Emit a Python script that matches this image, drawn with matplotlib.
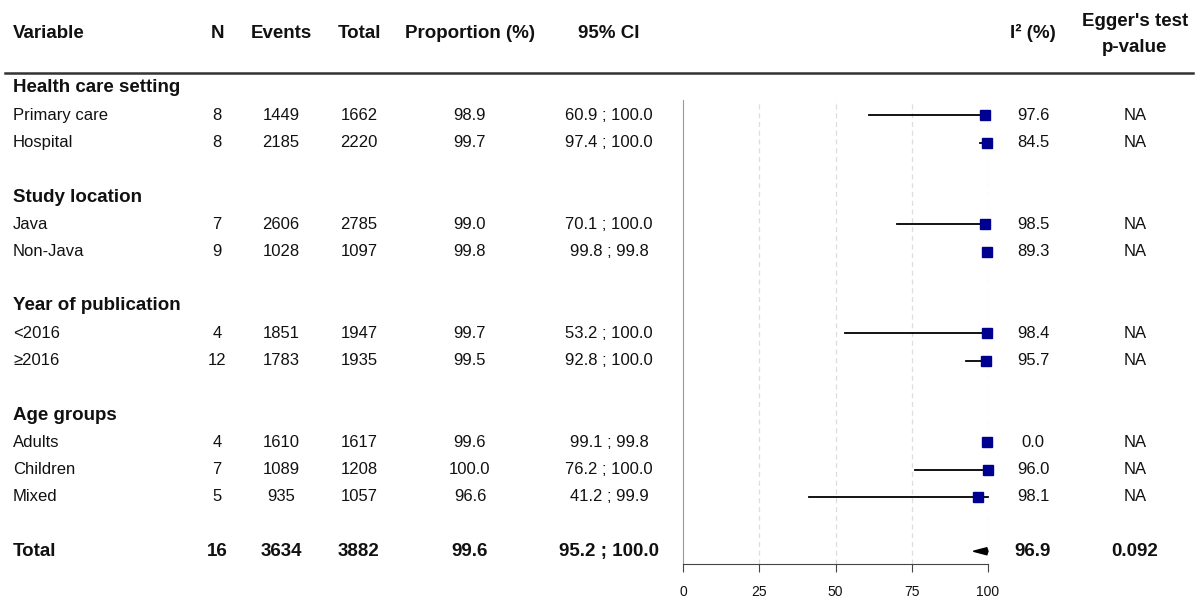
import matplotlib.pyplot as plt
from matplotlib.patches import Polygon

plt.rcParams['font.family'] = ['Liberation Sans', 'DejaVu Sans']

# ---- data ----
groups = ["Health care setting", "Study location", "Year of publication", "Age groups"]
subgroups = [["Primary care", "Hospital"],
             ["Java", "Non-Java"],
             ["<2016", "\u22652016"],
             ["Adults", "Children", "Mixed"]]
n_studies = [8, 8, 7, 9, 4, 12, 4, 7, 5]
events = [1449, 2185, 2606, 1028, 1851, 1783, 1610, 1089, 935]
totals = [1662, 2220, 2785, 1097, 1947, 1935, 1617, 1208, 1057]
prop = [98.9, 99.7, 99.0, 99.8, 99.7, 99.5, 99.6, 100.0, 96.6]
ci_low = [60.9, 97.4, 70.1, 99.8, 53.2, 92.8, 99.1, 76.2, 41.2]
ci_high = [100.0, 100.0, 100.0, 99.8, 100.0, 100.0, 99.8, 100.0, 99.9]
i2 = [97.6, 84.5, 98.5, 89.3, 98.4, 95.7, 0.0, 96.0, 98.1]
egger = ["NA"] * 9

total_n, total_events, total_total = 16, 3634, 3882
total_prop, total_low, total_high = 99.6, 95.2, 100.0
total_i2, total_egger = 96.9, "0.092"

headers = ["Variable", "N", "Events", "Total", "Proportion (%)", "95% CI",
           "I\u00b2 (%)"]
xticks = [0, 25, 50, 75, 100]

# ---- layout (pixels) ----
W, H = 1197, 600
col_x = {"N": 217, "Events": 281, "Total": 359, "Prop": 470, "CI": 609,
         "I2": 1033, "Egger": 1135}
row0, row_h = 88, 27.25
ax_left, ax_right, ax_top, ax_bottom = 683, 988, 100, 564

fig = plt.figure(figsize=(W / 100, H / 100), dpi=100)
bg = fig.add_axes([0, 0, 1, 1])
bg.set_xlim(0, W)
bg.set_ylim(H, 0)
bg.axis('off')

fa = fig.add_axes([ax_left / W, (H - ax_bottom) / H,
                   (ax_right - ax_left) / W, (ax_bottom - ax_top) / H])
fa.set_xlim(0, 100)
fa.set_ylim(ax_bottom, ax_top)
fa.patch.set_alpha(0)

fs, fsb = 12, 13.5
tc = '#111111'

# header
hy = 33
bg.text(13, hy, headers[0], fontsize=fsb, fontweight='bold', va='center', color=tc)
for key, lab in zip(["N", "Events", "Total", "Prop", "CI", "I2"], headers[1:]):
    bg.text(col_x[key], hy, lab, fontsize=fsb, fontweight='bold',
            ha='center', va='center', color=tc)
bg.text(col_x["Egger"], 21, "Egger's test", fontsize=fsb, fontweight='bold',
        ha='center', va='center', color=tc)
bg.text(col_x["Egger"], 47, "p-value", fontsize=fsb, fontweight='bold',
        ha='center', va='center', color=tc)
bg.plot([5, 1193], [73, 73], color='#333333', lw=1.8)

# rows
def row_y(i):
    return row0 + row_h * i

i = 0
k = 0
for g, subs in zip(groups, subgroups):
    bg.text(13, row_y(i), g, fontsize=fsb, fontweight='bold', va='center', color=tc)
    i += 1
    for s in subs:
        y = row_y(i)
        bg.text(13, y, s, fontsize=fs, va='center', color=tc)
        vals = [str(n_studies[k]), str(events[k]), str(totals[k]),
                "%.1f" % prop[k], "%.1f ; %.1f" % (ci_low[k], ci_high[k]),
                "%.1f" % i2[k], egger[k]]
        for key, v in zip(["N", "Events", "Total", "Prop", "CI", "I2", "Egger"], vals):
            bg.text(col_x[key], y, v, fontsize=fs, ha='center', va='center', color=tc)
        fa.plot([ci_low[k], ci_high[k]], [y, y], color='black', lw=1.3, zorder=3,
                clip_on=False)
        fa.plot(prop[k], y, marker='s', ms=6.5, color='#000090', zorder=4,
                clip_on=False)
        i += 1
        k += 1
    i += 1

# total row
y = row_y(i)
bg.text(13, y, "Total", fontsize=fsb, fontweight='bold', va='center', color=tc)
vals = [str(total_n), str(total_events), str(total_total), "%.1f" % total_prop,
        "%.1f ; %.1f" % (total_low, total_high), "%.1f" % total_i2, total_egger]
for key, v in zip(["N", "Events", "Total", "Prop", "CI", "I2", "Egger"], vals):
    bg.text(col_x[key], y, v, fontsize=fsb, fontweight='bold',
            ha='center', va='center', color=tc)
dh = 3.5
fa.add_patch(Polygon([(total_low, y), (total_prop, y - dh), (total_high, y),
                      (total_prop, y + dh)], closed=True, color='black', zorder=4,
                     clip_on=False))

# axis styling
for t in xticks[1:]:
    fa.axvline(t, color='#dddddd', lw=0.9, ls=(0, (4, 3)), zorder=1)
fa.spines['top'].set_visible(False)
fa.spines['right'].set_visible(False)
fa.spines['left'].set_color('#999999')
fa.spines['bottom'].set_color('#444444')
fa.spines['bottom'].set_bounds(0, 100)
fa.set_yticks([])
fa.set_xticks(xticks)
fa.tick_params(axis='x', length=6, color='#444444', labelsize=10, pad=9,
               labelcolor=tc)

fig.savefig('out.png', dpi=100)
